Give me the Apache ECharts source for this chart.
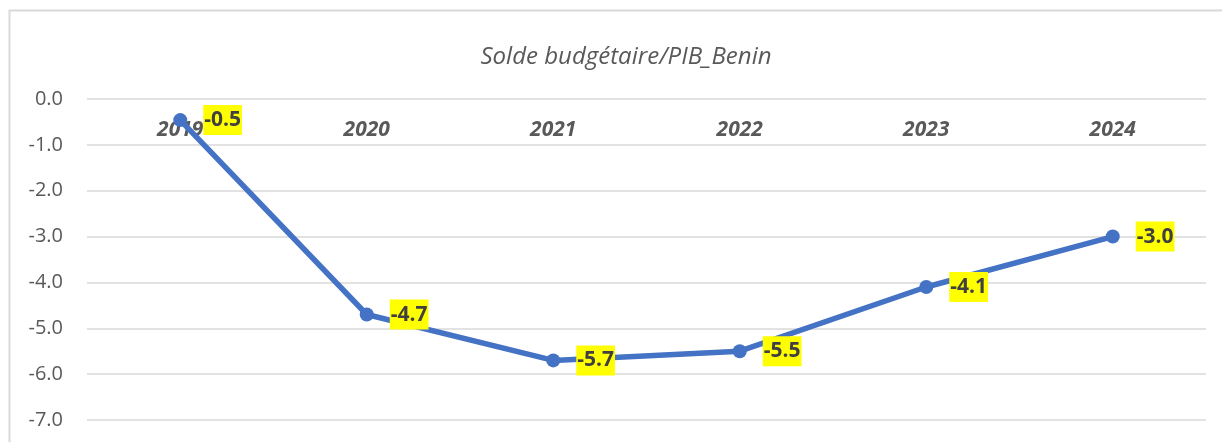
<!DOCTYPE html>
<html>
<head>
<meta charset="utf-8">
<script src="https://cdn.jsdelivr.net/npm/echarts@6/dist/echarts.min.js"></script>
<style>
  html, body { margin: 0; padding: 0; background: #fff; }
  #chart { width: 1222px; height: 442px; }
</style>
</head>
<body>
<div id="chart"></div>
<script>
// données du graphique
var years = ["2019", "2020", "2021", "2022", "2023", "2024"];
var soldePib = [-0.46, -4.7, -5.7, -5.5, -4.1, -3.0];
var chartTitle = "Solde budgétaire/PIB_Benin";

var chart = echarts.init(document.getElementById("chart"));
chart.setOption({
  animation: false,
  backgroundColor: "#ffffff",
  title: {
    text: chartTitle,
    left: 621,
    top: 40,
    textAlign: "center",
    textStyle: {
      fontFamily: "Open Sans",
      fontStyle: "italic",
      fontWeight: "normal",
      fontSize: 24,
      color: "#595959"
    }
  },
  // cadre du graphique
  graphic: [{
    type: "rect",
    silent: true,
    shape: { x: 9.5, y: 10.5, width: 1400, height: 600 },
    style: { fill: "none", stroke: "#d9d9d9", lineWidth: 2 }
  }],
  grid: {
    left: 87,
    right: 16,
    top: 99,
    bottom: 22,
    containLabel: false
  },
  xAxis: {
    type: "category",
    position: "top",
    data: years,
    boundaryGap: true,
    axisLine: { show: false },
    axisTick: { show: false },
    axisLabel: {
      inside: true,
      margin: 21,
      fontFamily: "Open Sans",
      fontStyle: "italic",
      fontWeight: "bold",
      fontSize: 21,
      color: "#595959"
    }
  },
  yAxis: {
    type: "value",
    min: -7,
    max: 0,
    interval: 1,
    axisLine: { show: false },
    axisTick: { show: false },
    splitLine: { lineStyle: { color: "#d9d9d9", width: 1.5 } },
    axisLabel: {
      margin: 24,
      fontFamily: "Open Sans",
      fontSize: 20,
      color: "#595959",
      formatter: function (v) { return v.toFixed(1); }
    }
  },
  series: [{
    type: "line",
    data: soldePib,
    symbol: "circle",
    symbolSize: 14,
    lineStyle: { color: "#4472C4", width: 5.5 },
    itemStyle: { color: "#4472C4" },
    label: {
      show: true,
      position: "right",
      distance: 16,
      backgroundColor: "#ffff00",
      padding: [6, 1, 3, 1],
      fontFamily: "Open Sans",
      fontWeight: "bold",
      fontSize: 21,
      color: "#404040",
      formatter: function (p) { return p.value.toFixed(1); }
    }
  }]
});
</script>
</body>
</html>
